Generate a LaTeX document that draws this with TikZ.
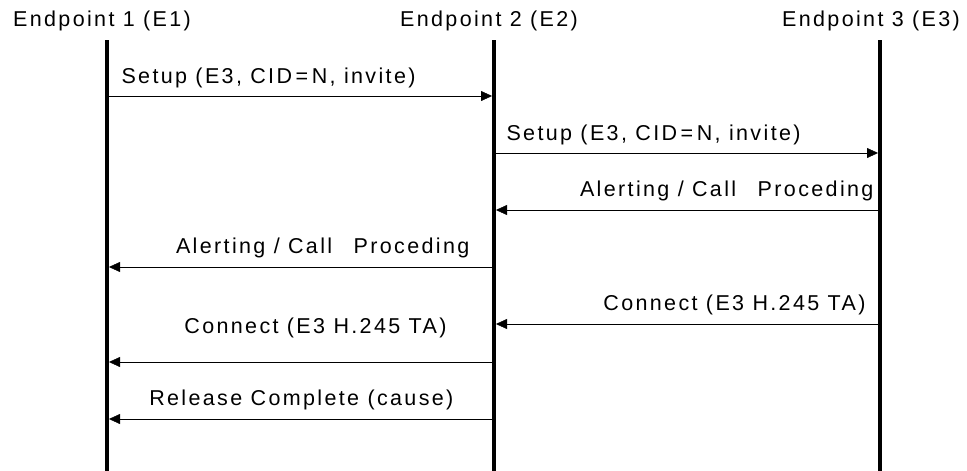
\documentclass[tikz,border=0pt]{standalone}
\usepackage{fontspec}
\setmainfont{Liberation Sans}[LetterSpace=11]
\usetikzlibrary{arrows.meta,positioning,calc}

\begin{document}
\begin{tikzpicture}[x=1pt,y=-1pt,font=\fontsize{21.5}{25}\selectfont,>={Triangle[length=11pt,width=10pt]}]
    \useasboundingbox (0,0) rectangle (967,471);
    % endpoint headers
    \node[anchor=base] (e1) at (102,26) {Endpoint 1 (E1)};
    \node[anchor=base] (e2) at (489,26) {Endpoint 2 (E2)};
    \node[anchor=base] (e3) at (871,26) {Endpoint 3 (E3)};
    % lifelines
    \coordinate (e1top) at (107,40); \coordinate (e1bot) at (107,471);
    \coordinate (e2top) at (494,40); \coordinate (e2bot) at (494,471);
    \coordinate (e3top) at (880,40); \coordinate (e3bot) at (880,471);
    \foreach \e in {e1,e2,e3} \draw[line width=4pt] (\e top) -- (\e bot);
    % message end points on the lifelines
    \foreach \m/\y in {1/96,2/153,3/210,4/267,5/324,6/362,7/419} {
      \coordinate (a\m) at (e1top |- 0,\y);
      \coordinate (b\m) at (e2top |- 0,\y);
      \coordinate (c\m) at (e3top |- 0,\y);
    }
    % messages
    \draw[->,shorten >=2pt] (a1) -- (b1);
    \draw[->,shorten >=2pt] (b2) -- (c2);
    \draw[->,shorten >=2pt] (c3) -- (b3);
    \draw[->,shorten >=2pt] (b4) -- (a4);
    \draw[->,shorten >=2pt] (c5) -- (b5);
    \draw[->,shorten >=2pt] (b6) -- (a6);
    \draw[->,shorten >=2pt] (b7) -- (a7);
    % labels
    \node[anchor=base west] (l1) at (118,83) {Setup (E3, CID\,=\,N, invite)};
    \node[anchor=base west] (l2) at (503,140) {Setup (E3, CID\,=\,N, invite)};
    \node[anchor=base east] (l3) at (877,196) {Alerting / Call\quad Proceding};
    \node[anchor=base east] (l4) at (473,253) {Alerting / Call\quad Proceding};
    \node[anchor=base east] (l5) at (869,310) {Connect (E3 H.245 TA)};
    \node[anchor=base east] (l6) at (450,333) {Connect (E3 H.245 TA)};
    \node[anchor=base east] (l7) at (457,405) {Release Complete (cause)};
\end{tikzpicture}
\end{document}
